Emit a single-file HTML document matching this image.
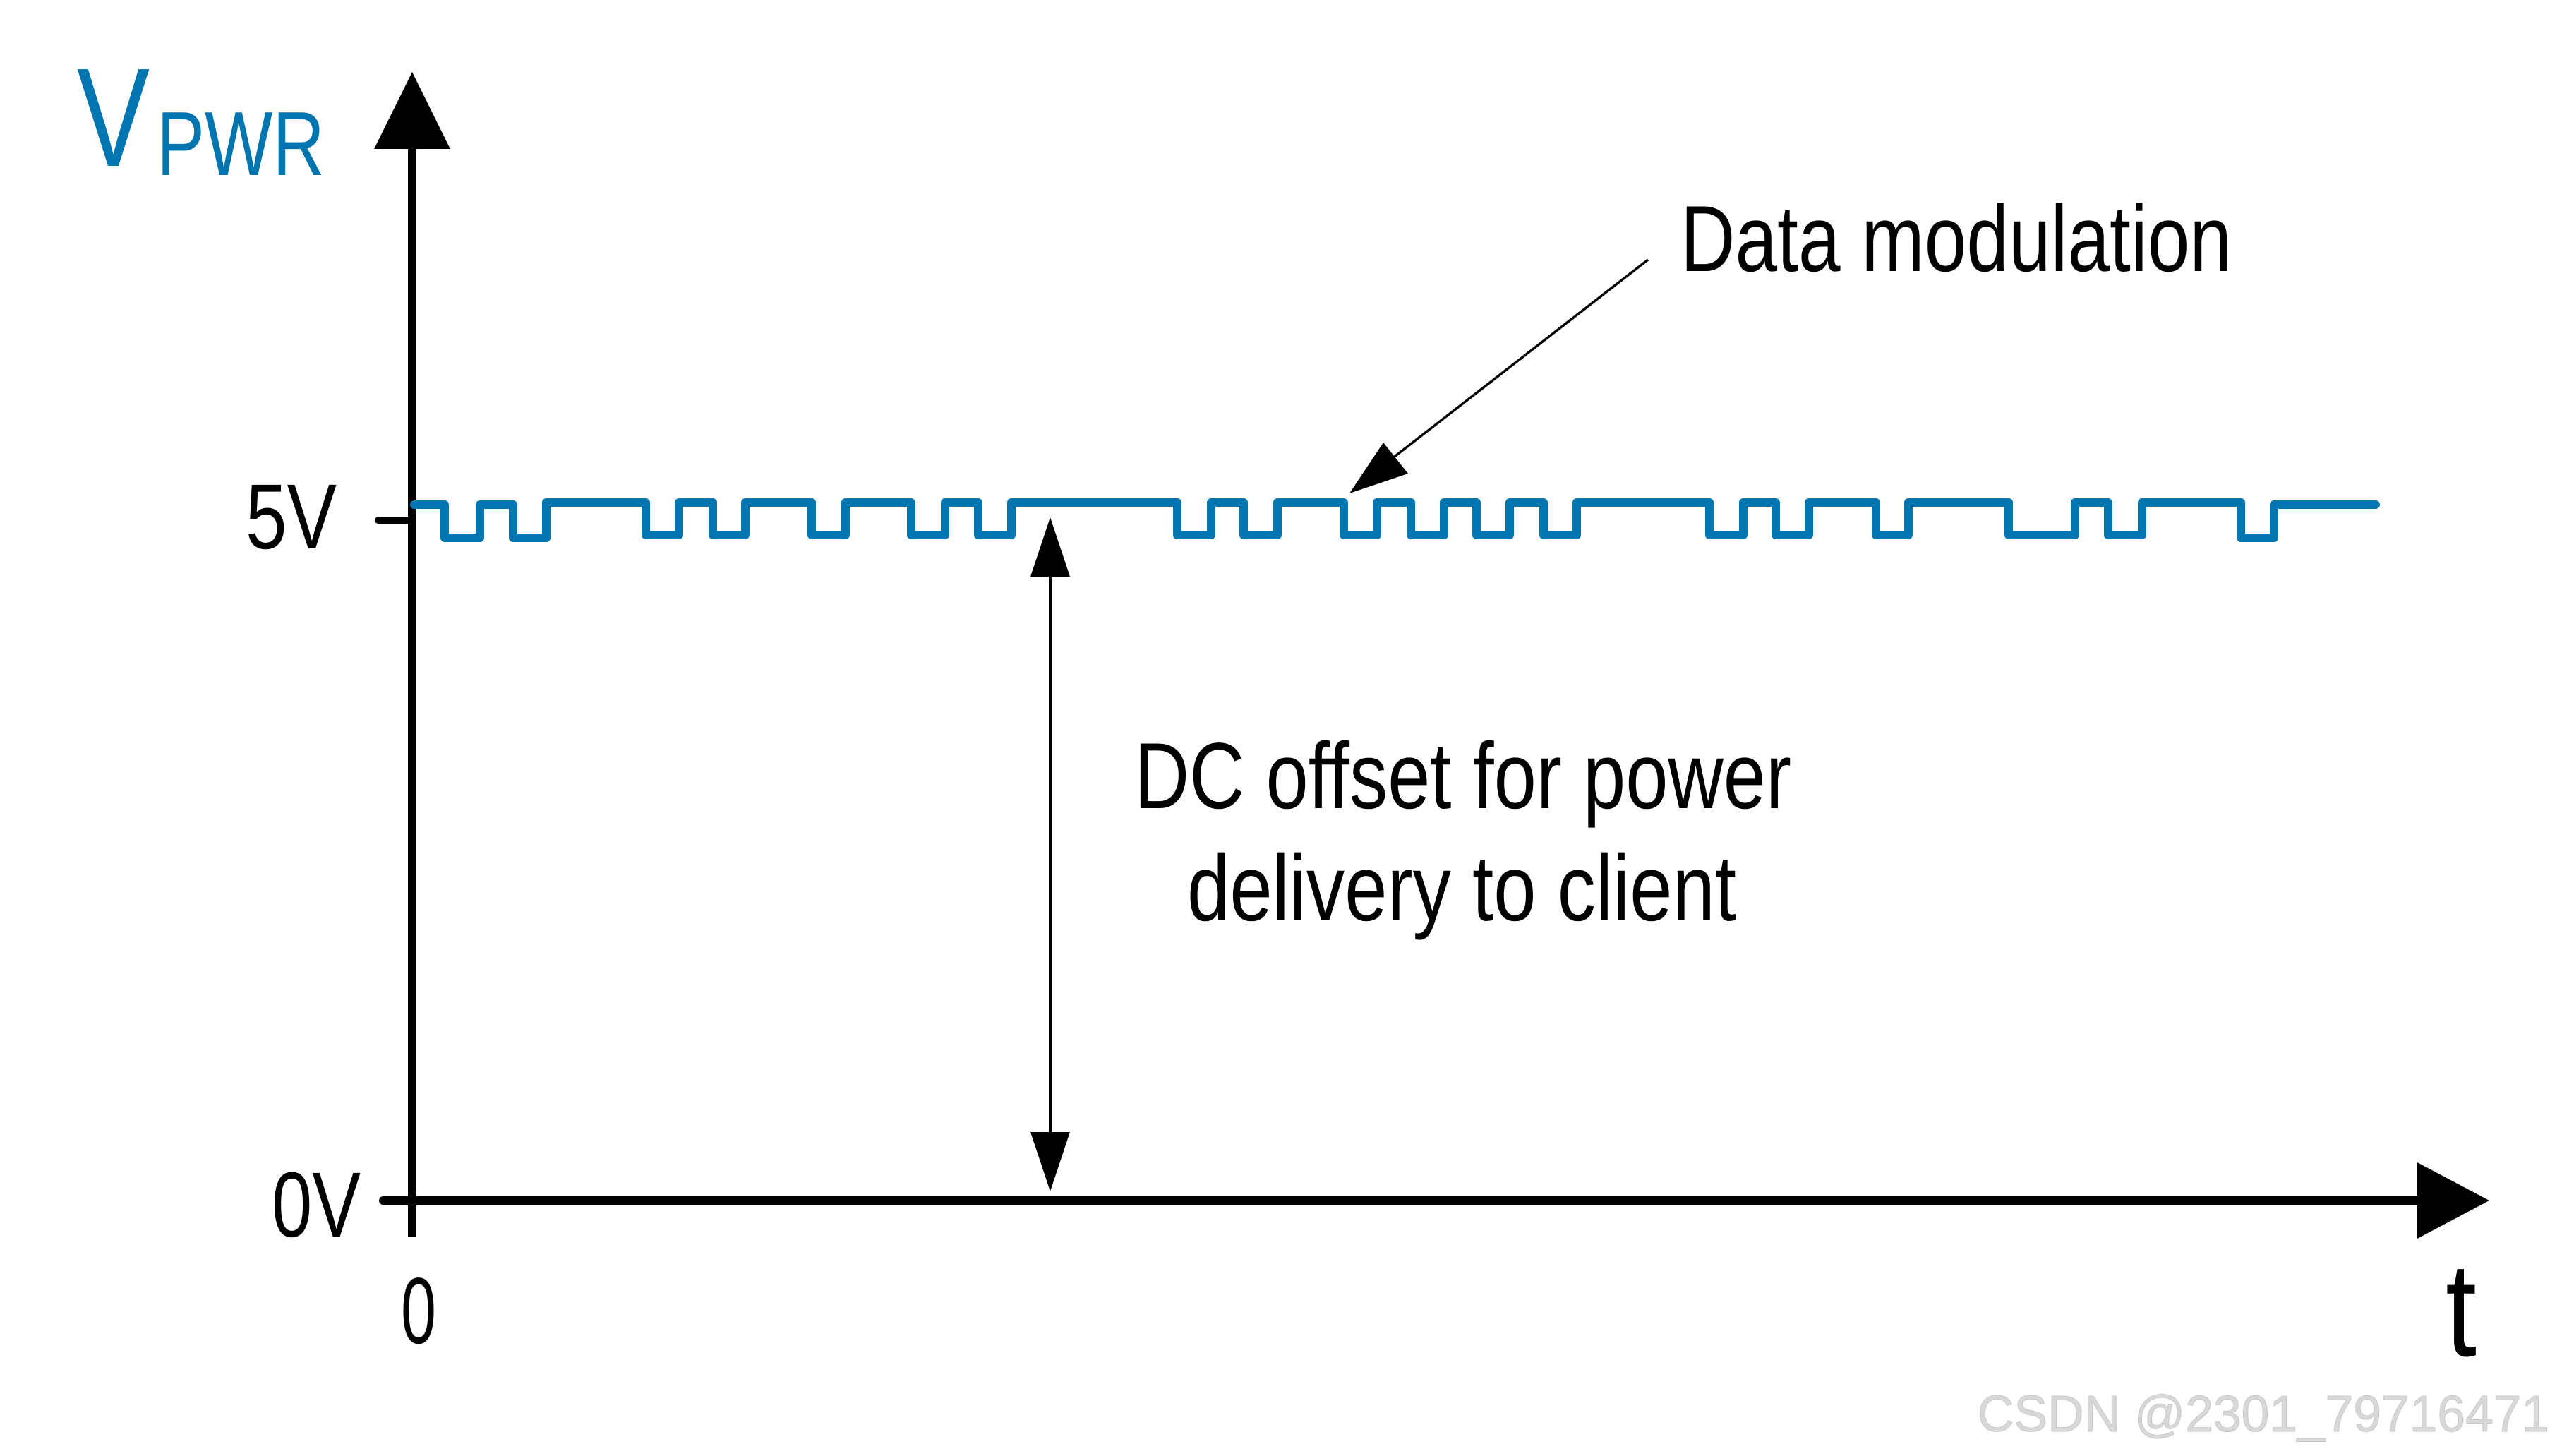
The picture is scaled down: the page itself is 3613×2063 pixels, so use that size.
<!DOCTYPE html>
<html><head><meta charset="utf-8"><style>html,body{margin:0;padding:0;background:#fff}svg{display:block}</style></head>
<body>
<svg width="3613" height="2063" viewBox="0 0 3613 2063" xmlns="http://www.w3.org/2000/svg" font-family="'Liberation Sans', Arial, sans-serif">
<rect width="3613" height="2063" fill="#fff"/>
<!-- axes -->
<line x1="584" y1="200" x2="584" y2="1752" stroke="#000" stroke-width="12"/>
<polygon points="584,102 530,211 638,211" fill="#000"/>
<line x1="543" y1="1701" x2="3430" y2="1701" stroke="#000" stroke-width="12" stroke-linecap="round"/>
<polygon points="3527,1701 3425,1647 3425,1755" fill="#000"/>
<line x1="536" y1="737" x2="584" y2="737" stroke="#000" stroke-width="10" stroke-linecap="round"/>
<!-- waveform -->
<polyline fill="none" stroke="#0075b0" stroke-width="12" stroke-linejoin="round" stroke-linecap="round" points="
587,715 630,715 630,762 680,762 680,715 727,715 727,762 774,762 774,712
915,712 915,758 962,758 962,712 1010,712 1010,758 1056,758 1056,712
1150,712 1150,758 1198,758 1198,712 1291,712 1291,758 1339,758 1339,712
1386,712 1386,758 1433,758 1433,712 1668,712 1668,758 1716,758 1716,712
1762,712 1762,758 1810,758 1810,712 1904,712 1904,758 1951,758 1951,712
1999,712 1999,758 2046,758 2046,712 2092,712 2092,758 2139,758 2139,712
2187,712 2187,758 2234,758 2234,712 2422,712 2422,758 2470,758 2470,712
2516,712 2516,758 2563,758 2563,712 2658,712 2658,758 2704,758 2704,712
2846,712 2846,758 2940,758 2940,712 2987,712 2987,758 3035,758 3035,712
3175,712 3175,762 3222,762 3222,715 3366,715"/>
<!-- DC offset arrow -->
<line x1="1488" y1="810" x2="1488" y2="1610" stroke="#000" stroke-width="4"/>
<polygon points="1488,733 1460,817 1516,817" fill="#000"/>
<polygon points="1488,1688 1460,1604 1516,1604" fill="#000"/>
<!-- data modulation leader -->
<line x1="2335" y1="368" x2="1950" y2="667" stroke="#000" stroke-width="3.5"/>
<polygon points="1912,699 1960,627 1995,671" fill="#000"/>
<!-- text -->
<text x="109" y="235" font-size="199" fill="#0075b0" textLength="103" lengthAdjust="spacingAndGlyphs">V</text>
<text x="222" y="248" font-size="129" fill="#0075b0" textLength="238" lengthAdjust="spacingAndGlyphs">PWR</text>
<text x="348" y="777" font-size="131" fill="#000" textLength="129" lengthAdjust="spacingAndGlyphs">5V</text>
<text x="385" y="1752" font-size="131" fill="#000" textLength="126" lengthAdjust="spacingAndGlyphs">0V</text>
<text x="568" y="1903" font-size="133" fill="#000" textLength="50" lengthAdjust="spacingAndGlyphs">0</text>
<text x="3465" y="1921" font-size="190" fill="#000" textLength="44" lengthAdjust="spacingAndGlyphs">t</text>
<text x="2381" y="384" font-size="133" fill="#000" textLength="781" lengthAdjust="spacingAndGlyphs">Data modulation</text>
<text x="1607" y="1145" font-size="133" fill="#000" textLength="931" lengthAdjust="spacingAndGlyphs">DC offset for power</text>
<text x="1682" y="1304" font-size="133" fill="#000" textLength="778" lengthAdjust="spacingAndGlyphs">delivery to client</text>
<text x="2802" y="2028" font-size="72" fill="#d8d8d8" stroke="#c8c8c8" stroke-width="1" textLength="810" lengthAdjust="spacingAndGlyphs">CSDN @2301_79716471</text>
</svg>
</body></html>
